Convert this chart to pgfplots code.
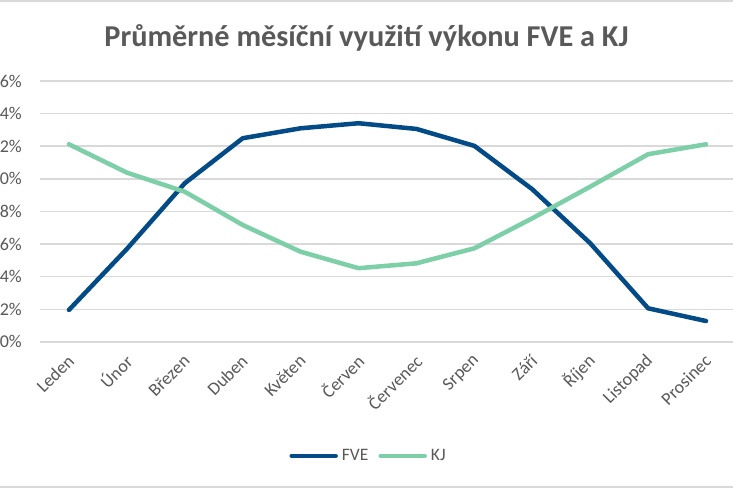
\documentclass[border=0pt]{standalone}
\usepackage{fontspec}
\setmainfont{Carlito}
\usepackage{pgfplots}
\pgfplotsset{compat=1.18}
\definecolor{fve}{HTML}{034B87}
\definecolor{kj}{HTML}{7DCFA8}
\definecolor{txt}{HTML}{595959}
\definecolor{gridc}{HTML}{D9D9D9}
\begin{document}
\begin{tikzpicture}
\path[use as bounding box] (0pt,0pt) rectangle (733pt,488pt);
\clip (0pt,0pt) rectangle (733pt,488pt);
\fill[white] (0pt,0pt) rectangle (733pt,488pt);
\draw[gridc, line width=1.5pt] (0pt,487.2pt) -- (733pt,487.2pt);
\draw[gridc, line width=1.5pt] (0pt,0.8pt) -- (733pt,0.8pt);
\node[anchor=base, text=txt, font=\bfseries\fontsize{30.3}{30.3}\selectfont] at (366.5pt,441pt) {Průměrné měsíční využití výkonu FVE a KJ};
\begin{axis}[
  at={(40pt,146.1pt)}, anchor=south west,
  scale only axis, width=695pt, height=260.9pt,
  xmin=-0.5, xmax=11.5, ymin=0, ymax=16,
  axis line style={draw=none},
  major tick length=0pt,
  ytick={0,2,4,6,8,10,12,14,16},
  yticklabels={0\%,2\%,4\%,6\%,8\%,10\%,12\%,14\%,16\%},
  yticklabel style={anchor=east, inner sep=0pt, xshift=-18pt, text=txt, font=\fontsize{18}{18}\selectfont},
  xtick={0,1,2,3,4,5,6,7,8,9,10,11},
  xticklabels={Leden,Únor,Březen,Duben,Květen,Červen,Červenec,Srpen,Září,Říjen,Listopad,Prosinec},
  xticklabel style={xshift=2pt, yshift=-16pt, rotate=45, anchor=east, inner sep=0pt, text=txt, font=\fontsize{18}{18}\selectfont},
  ymajorgrids, major grid style={gridc, line width=1.5pt},
  clip=false,
  legend columns=2,
  legend style={at={(0.4727,-0.437)}, anchor=center, draw=none, fill=none, font=\fontsize{17.5}{17.5}\selectfont, text=txt, column sep=8pt, inner sep=0pt,
    /tikz/every odd column/.append style={column sep=2pt}},
  legend image code/.code={\draw[#1] (0pt,0pt) -- (44pt,0pt);},
]
\addplot[fve, line width=4.5pt, line cap=round, line join=round] coordinates {
(0,1.96) (1,5.7) (2,9.73) (3,12.49) (4,13.1) (5,13.41) (6,13.06) (7,12.02) (8,9.36) (9,6.05) (10,2.06) (11,1.28)};
\addlegendentry{FVE}
\addplot[kj, line width=4.5pt, line cap=round, line join=round] coordinates {
(0,12.12) (1,10.38) (2,9.21) (3,7.17) (4,5.53) (5,4.52) (6,4.82) (7,5.74) (8,7.58) (9,9.52) (10,11.51) (11,12.12)};
\addlegendentry{KJ}
\end{axis}
\end{tikzpicture}
\end{document}
